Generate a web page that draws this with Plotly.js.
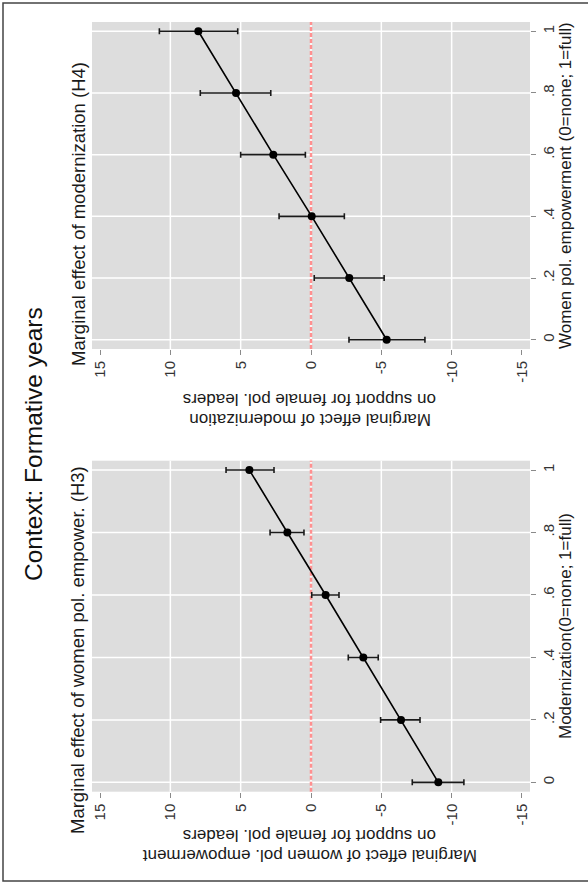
<!DOCTYPE html>
<html><head><meta charset="utf-8">
<script src="https://cdn.plot.ly/plotly-3.0.1.min.js"></script>
<style>html,body{margin:0;padding:0;background:#fff;} #chart{width:588px;height:883px;}</style>
</head><body><div id="chart"></div>
<script>
// ---- data ----
const levels = [0, 0.2, 0.4, 0.6, 0.8, 1];
const levelLabels = ["0", ".2", ".4", ".6", ".8", "1"];
const effectTicks = [-15, -10, -5, 0, 5, 10, 15];
const effectTickLabels = ["-15", "-10", "-5", "0", "5", "10", "15"];
const effectGrid = [-10, -5, 0, 5, 10];

// H4: marginal effect of modernization, by women pol. empowerment
const h4Effect = [-5.38, -2.72, -0.05, 2.68, 5.33, 8.01];
const h4Low    = [-8.10, -5.20, -2.37, 0.40, 2.86, 5.21];
const h4High   = [-2.70, -0.23, 2.27, 5.00, 7.87, 10.78];

// H3: marginal effect of women pol. empowerment, by modernization
const h3Effect = [-9.05, -6.40, -3.72, -1.04, 1.68, 4.38];
const h3Low    = [-10.87, -7.75, -4.78, -1.99, 0.50, 2.63];
const h3High   = [-7.20, -4.95, -2.65, -0.05, 2.91, 6.04];

// ---- helpers ----
const W = 588, H = 883;
const px = v => v / W;
const py = v => 1 - v / H;
const FONT = 'Liberation Sans, Arial, Helvetica, sans-serif';

function panelTrace(eff, lo, hi, xa, ya) {
  return {
    type: 'scatter', mode: 'lines+markers',
    x: eff, y: levels, xaxis: xa, yaxis: ya,
    error_x: {type: 'data', symmetric: false,
      array: hi.map((h, i) => h - eff[i]),
      arrayminus: lo.map((l, i) => eff[i] - l),
      color: '#1a1a1a', thickness: 1.6, width: 3},
    marker: {color: '#000', size: 8},
    line: {color: '#000', width: 1.6},
    hoverinfo: 'skip', showlegend: false
  };
}

const data = [
  panelTrace(h4Effect, h4Low, h4High, 'x', 'y'),
  panelTrace(h3Effect, h3Low, h3High, 'x2', 'y2')
];

function effAxis(anchor) {
  return {
    domain: [px(92), px(530)], range: [15.57, -15.57], anchor: anchor,
    tickmode: 'array', tickvals: effectTicks, ticktext: effectTickLabels,
    tickangle: -90, ticks: 'outside', ticklen: 5, tickwidth: 1, tickcolor: '#8a8a8a',
    tickfont: {size: 15, color: '#333', family: FONT},
    showgrid: false, zeroline: false, showline: false, fixedrange: true
  };
}
function levelAxis(anchor, top, bottom) {
  return {
    domain: [py(bottom), py(top)], range: [-0.03, 1.03], anchor: anchor, side: 'right',
    tickmode: 'array', tickvals: levels, ticktext: levelLabels,
    tickangle: -90, ticks: 'outside', ticklen: 5, tickwidth: 1, tickcolor: '#8a8a8a',
    tickfont: {size: 15, color: '#333', family: FONT},
    showgrid: false, zeroline: false, showline: false, fixedrange: true
  };
}

const shapes = [];
[['x', 'y'], ['x2', 'y2']].forEach(([xr, yr]) => {
  levels.forEach(v => shapes.push({type: 'line', xref: xr + ' domain', yref: yr, x0: 0, x1: 1, y0: v, y1: v,
    line: {color: '#ffffff', width: 1.5}, layer: 'below'}));
  effectGrid.forEach(v => shapes.push({type: 'line', xref: xr, yref: yr + ' domain', x0: v, x1: v, y0: 0, y1: 1,
    line: {color: '#ffffff', width: 1.5}, layer: 'below'}));
  shapes.push({type: 'line', xref: xr, yref: yr + ' domain', x0: 0, x1: 0, y0: 0, y1: 1,
    line: {color: '#ff9090', width: 2.5, dash: '4px,2px'}, layer: 'below'});
});
shapes.push({type: 'rect', xref: 'paper', yref: 'paper', x0: px(3), x1: 1.05, y0: py(881), y1: py(3),
  line: {color: '#444', width: 1.5}, fillcolor: 'rgba(0,0,0,0)', layer: 'above'});

function ann(text, x, y, angle, size, color) {
  return {text: text, xref: 'paper', yref: 'paper', x: px(x), y: py(y), textangle: angle,
    showarrow: false, xanchor: 'center', yanchor: 'middle',
    font: {size: size, color: color || '#1a1a1a', family: FONT}};
}

const annotations = [
  ann('Context: Formative years', 33, 444, -90, 24.5, '#111'),
  ann('Marginal effect of modernization (H4)', 78, 214, -90, 18.5),
  ann('Marginal effect of women pol. empower. (H3)', 77, 650, -90, 18.5),
  ann('Women pol. empowerment (0=none; 1=full)', 565, 186, -90, 17),
  ann('Modernization(0=none; 1=full)', 565, 626, -90, 17),
  ann('on support for female pol. leaders', 310, 400, 180, 17),
  ann('Marginal effect of modernization', 310, 419, 180, 17),
  ann('on support for female pol. leaders', 310, 836, 180, 17),
  ann('Marginal effect of women pol. empowerment', 310, 856, 180, 17)
];

const layout = {
  width: W, height: H, margin: {l: 0, r: 0, t: 0, b: 0, pad: 0},
  paper_bgcolor: '#ffffff', plot_bgcolor: '#dddddd',
  font: {family: FONT, color: '#222'}, showlegend: false,
  xaxis: effAxis('y'), yaxis: levelAxis('x', 22, 349),
  xaxis2: effAxis('y2'), yaxis2: levelAxis('x2', 460.7, 791.7),
  shapes: shapes, annotations: annotations
};

Plotly.newPlot('chart', data, layout, {staticPlot: true, displayModeBar: false});
</script>
</body></html>
